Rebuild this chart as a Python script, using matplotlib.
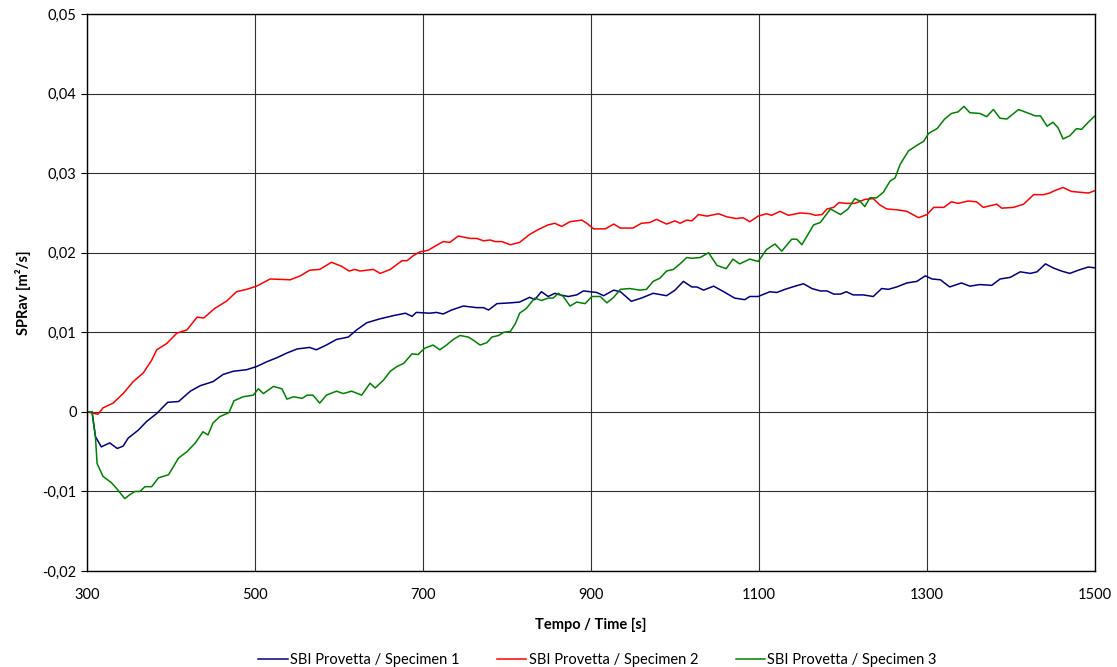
import matplotlib
matplotlib.use("Agg")
import matplotlib.pyplot as plt
from matplotlib.ticker import FuncFormatter

plt.rcParams["font.family"] = ["Lato", "DejaVu Sans"]

# Specimen 1 (blue)
t1 = [300, 306, 310, 317, 327, 336, 343, 349, 361, 371, 383, 396, 409, 423, 435, 450,
      462, 474, 490, 502, 514, 526, 538, 550, 565, 573, 585, 597, 611, 621, 633, 649,
      665, 679, 687, 692, 708, 716, 724, 734, 748, 764, 772, 778, 788, 804, 815, 827,
      833, 841, 849, 857, 863, 873, 883, 891, 907, 915, 927, 935, 948, 960, 974, 990,
      1000, 1010, 1020, 1026, 1034, 1046, 1058, 1071, 1083, 1089, 1099, 1113, 1121, 1131,
      1143, 1153, 1163, 1173, 1181, 1189, 1197, 1204, 1212, 1224, 1236, 1246, 1254, 1264,
      1276, 1288, 1298, 1306, 1316, 1327, 1341, 1351, 1363, 1377, 1387, 1399, 1411, 1423,
      1431, 1441, 1450, 1460, 1470, 1480, 1492, 1500]
v1 = [0, 0, -0.0031, -0.0044, -0.0039, -0.0046, -0.0043, -0.0033, -0.0023, -0.0012,
      -0.0002, 0.0012, 0.0013, 0.0026, 0.0033, 0.0038, 0.0047, 0.0051, 0.0053, 0.0057,
      0.0063, 0.0068, 0.0074, 0.0079, 0.0081, 0.0078, 0.0084, 0.0091, 0.0094, 0.0103,
      0.0112, 0.0117, 0.0121, 0.0124, 0.0120, 0.0125, 0.0124, 0.0125, 0.0123, 0.0128,
      0.0133, 0.0131, 0.0131, 0.0128, 0.0136, 0.0137, 0.0138, 0.0144, 0.0141, 0.0151,
      0.0145, 0.0149, 0.0147, 0.0145, 0.0147, 0.0152, 0.0150, 0.0146, 0.0153, 0.0151,
      0.0139, 0.0143, 0.0149, 0.0146, 0.0153, 0.0164, 0.0157, 0.0157, 0.0153, 0.0158,
      0.0151, 0.0143, 0.0141, 0.0145, 0.0145, 0.0151, 0.0150, 0.0154, 0.0158, 0.0161,
      0.0155, 0.0152, 0.0152, 0.0148, 0.0148, 0.0151, 0.0147, 0.0147, 0.0145, 0.0155,
      0.0154, 0.0157, 0.0162, 0.0164, 0.0171, 0.0167, 0.0166, 0.0157, 0.0162, 0.0158,
      0.0160, 0.0159, 0.0167, 0.0169, 0.0176, 0.0174, 0.0176, 0.0186, 0.0181, 0.0177,
      0.0174, 0.0178, 0.0182, 0.0181]

# Specimen 2 (red)
t2 = [300, 313, 319, 331, 343, 355, 367, 377, 383, 395, 407, 419, 431, 439, 452, 466,
      478, 490, 502, 518, 542, 554, 565, 577, 591, 603, 612, 619, 625, 641, 649, 661,
      675, 681, 688, 696, 706, 714, 724, 732, 742, 756, 764, 772, 780, 786, 794, 804,
      815, 827, 837, 849, 857, 865, 875, 889, 895, 903, 917, 927, 935, 950, 960, 970,
      978, 990, 1000, 1006, 1014, 1020, 1028, 1038, 1052, 1062, 1073, 1081, 1089, 1099,
      1109, 1115, 1125, 1135, 1149, 1161, 1167, 1175, 1181, 1189, 1195, 1204, 1214, 1226,
      1236, 1244, 1252, 1264, 1276, 1290, 1300, 1308, 1320, 1329, 1337, 1349, 1359, 1367,
      1375, 1383, 1389, 1403, 1415, 1427, 1439, 1446, 1452, 1462, 1472, 1482, 1492, 1500]
v2 = [0, -0.0003, 0.0005, 0.0011, 0.0023, 0.0038, 0.0049, 0.0065, 0.0078, 0.0086,
      0.0099, 0.0103, 0.0119, 0.0118, 0.0130, 0.0139, 0.0151, 0.0154, 0.0158, 0.0167,
      0.0166, 0.0171, 0.0178, 0.0179, 0.0188, 0.0183, 0.0177, 0.0179, 0.0177, 0.0179,
      0.0174, 0.0179, 0.0190, 0.0190, 0.0196, 0.0201, 0.0203, 0.0208, 0.0214, 0.0213,
      0.0221, 0.0218, 0.0218, 0.0215, 0.0216, 0.0214, 0.0214, 0.0210, 0.0213, 0.0223,
      0.0229, 0.0235, 0.0237, 0.0233, 0.0239, 0.0241, 0.0237, 0.0230, 0.0230, 0.0236,
      0.0231, 0.0231, 0.0237, 0.0238, 0.0242, 0.0236, 0.0240, 0.0237, 0.0241, 0.0240,
      0.0248, 0.0246, 0.0249, 0.0245, 0.0243, 0.0244, 0.0239, 0.0246, 0.0249, 0.0247,
      0.0252, 0.0247, 0.0250, 0.0249, 0.0247, 0.0248, 0.0255, 0.0257, 0.0263, 0.0262,
      0.0262, 0.0267, 0.0268, 0.0260, 0.0255, 0.0254, 0.0252, 0.0244, 0.0248, 0.0257,
      0.0257, 0.0264, 0.0262, 0.0265, 0.0264, 0.0257, 0.0259, 0.0261, 0.0256, 0.0257,
      0.0261, 0.0273, 0.0273, 0.0275, 0.0278, 0.0282, 0.0277, 0.0276, 0.0275, 0.0278]

# Specimen 3 (green)
t3 = [300, 306, 310, 312, 319, 329, 335, 345, 351, 357, 363, 369, 377, 385, 397, 409,
      419, 429, 438, 444, 450, 458, 469, 475, 486, 498, 504, 510, 522, 532, 538, 546,
      556, 562, 569, 577, 585, 597, 605, 615, 627, 637, 643, 653, 661, 669, 677, 687,
      694, 702, 712, 720, 728, 736, 744, 754, 760, 768, 776, 782, 790, 796, 804, 810,
      815, 823, 833, 841, 849, 855, 861, 867, 875, 883, 893, 901, 911, 919, 927, 935,
      946, 958, 966, 974, 982, 990, 998, 1006, 1014, 1020, 1030, 1040, 1050, 1061, 1069,
      1077, 1089, 1099, 1109, 1119, 1127, 1139, 1145, 1151, 1165, 1173, 1185, 1197, 1206,
      1214, 1220, 1226, 1232, 1240, 1248, 1256, 1262, 1268, 1278, 1288, 1296, 1302, 1312,
      1321, 1329, 1337, 1344, 1351, 1363, 1371, 1379, 1387, 1395, 1409, 1419, 1429, 1435,
      1443, 1450, 1456, 1462, 1470, 1478, 1484, 1492, 1500]
v3 = [0, 0, -0.0031, -0.0065, -0.0081, -0.0089, -0.0096, -0.0109, -0.0104, -0.0100,
      -0.0100, -0.0094, -0.0094, -0.0083, -0.0079, -0.0058, -0.0050, -0.0039, -0.0025,
      -0.0029, -0.0014, -0.0006, -0.0001, 0.0014, 0.0019, 0.0021, 0.0029, 0.0023, 0.0032,
      0.0029, 0.0016, 0.0019, 0.0017, 0.0021, 0.0021, 0.0011, 0.0021, 0.0026, 0.0023,
      0.0026, 0.0021, 0.0036, 0.0030, 0.0040, 0.0051, 0.0057, 0.0061, 0.0073, 0.0072,
      0.0080, 0.0084, 0.0078, 0.0084, 0.0091, 0.0096, 0.0094, 0.0090, 0.0084, 0.0087,
      0.0094, 0.0096, 0.0100, 0.0101, 0.0111, 0.0124, 0.0130, 0.0143, 0.0140, 0.0143,
      0.0143, 0.0149, 0.0145, 0.0133, 0.0138, 0.0136, 0.0145, 0.0145, 0.0137, 0.0144,
      0.0154, 0.0155, 0.0153, 0.0154, 0.0164, 0.0168, 0.0177, 0.0179, 0.0186, 0.0194,
      0.0193, 0.0194, 0.0200, 0.0184, 0.0180, 0.0192, 0.0186, 0.0192, 0.0189, 0.0204,
      0.0211, 0.0202, 0.0217, 0.0217, 0.0210, 0.0235, 0.0238, 0.0255, 0.0248, 0.0255,
      0.0268, 0.0265, 0.0258, 0.0269, 0.0269, 0.0276, 0.0290, 0.0294, 0.0311, 0.0328,
      0.0335, 0.0340, 0.0350, 0.0356, 0.0368, 0.0375, 0.0377, 0.0384, 0.0376, 0.0375,
      0.0371, 0.0380, 0.0369, 0.0368, 0.0380, 0.0376, 0.0372, 0.0372, 0.0359, 0.0364,
      0.0357, 0.0343, 0.0347, 0.0356, 0.0355, 0.0364, 0.0372]

labels = ["SBI Provetta / Specimen 1", "SBI Provetta / Specimen 2", "SBI Provetta / Specimen 3"]
colors = ["#000080", "#ff0000", "#008000"]

fig = plt.figure(figsize=(11.17, 6.67), dpi=100)
ax = fig.add_axes([0.0779, 0.1439, 0.9024, 0.8351])

for t, v, lab, c in zip([t1, t2, t3], [v1, v2, v3], labels, colors):
    ax.plot(t, v, color=c, lw=1.1, label=lab)

ax.set_xlim(300, 1500)
ax.set_ylim(-0.02, 0.05)
ax.set_xticks(range(300, 1501, 200))
ax.set_yticks([-0.02, -0.01, 0, 0.01, 0.02, 0.03, 0.04, 0.05])


def fmt_y(val, pos):
    if abs(val) < 1e-9:
        return "0"
    return f"{val:.2f}".replace(".", ",")


ax.yaxis.set_major_formatter(FuncFormatter(fmt_y))
ax.grid(True, color="#303030", lw=0.8)
ax.tick_params(axis="x", length=0, labelsize=10.5, pad=12)
ax.tick_params(axis="y", length=4, labelsize=10.5, direction="out")
for s in ax.spines.values():
    s.set_color("black")
    s.set_linewidth(1.0)

ax.set_xlabel("Tempo / Time [s]", fontweight="bold", fontsize=10.5, labelpad=12)
ax.set_ylabel("SPRav [m²/s]", fontweight="bold", fontsize=10.5, labelpad=8)

fig.legend(loc="lower center", ncol=3, frameon=False, fontsize=10.5,
           bbox_to_anchor=(0.535, -0.02), handlelength=2.0, columnspacing=2.6,
           handletextpad=0.15)

fig.savefig("out.png", dpi=100)
